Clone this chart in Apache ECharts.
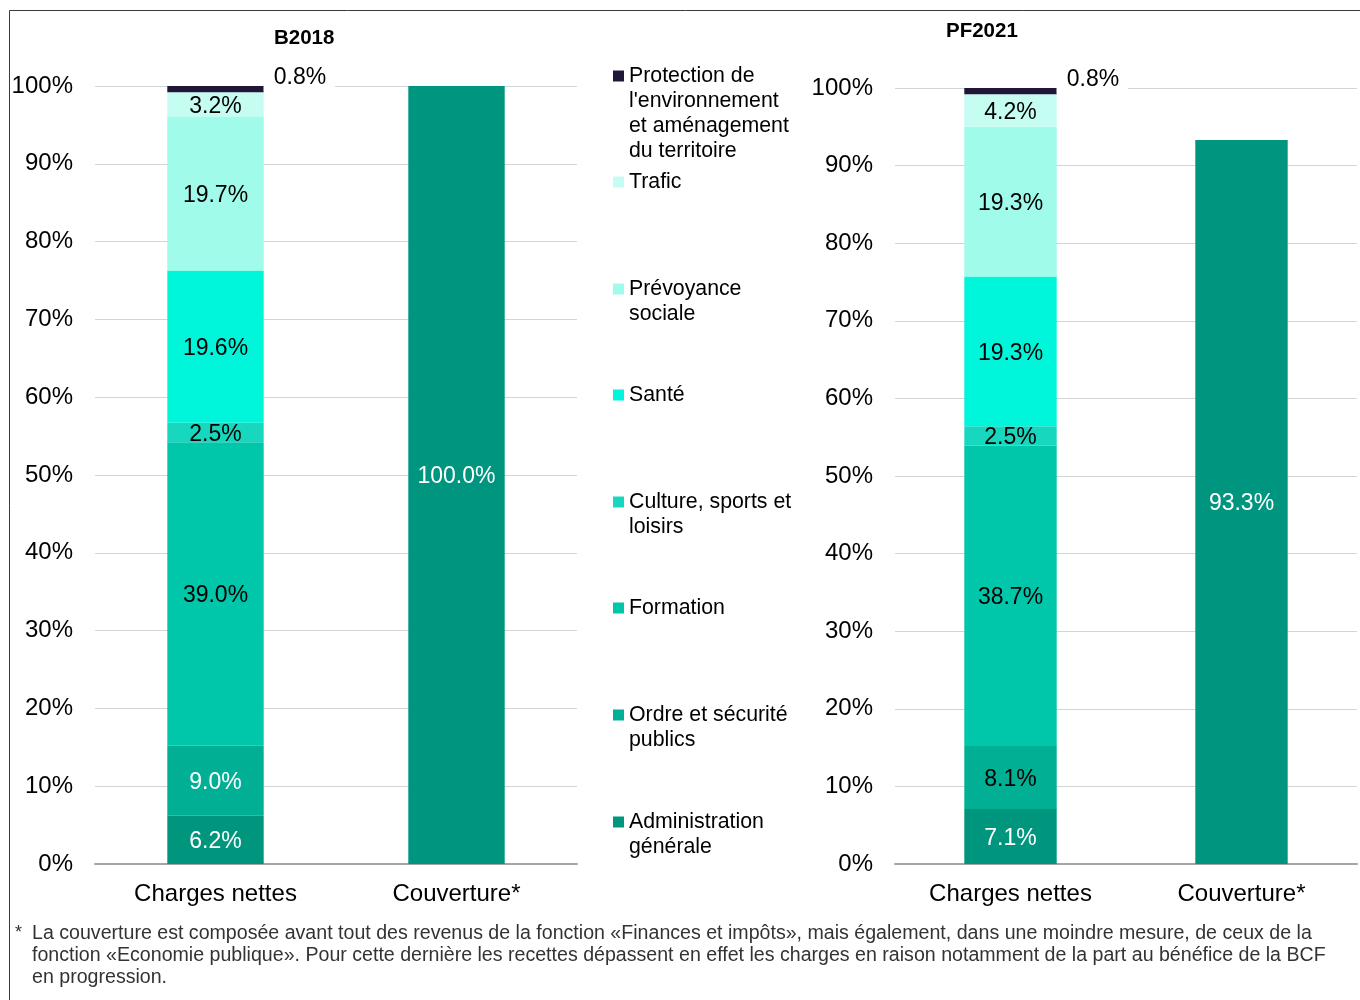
<!DOCTYPE html>
<html>
<head>
<meta charset="utf-8">
<title>Charges nettes et couverture</title>
<script src="https://cdn.jsdelivr.net/npm/echarts@6/dist/echarts.min.js"></script>
<style>
  html, body { margin: 0; padding: 0; background: #fff; }
  #chart { width: 1360px; height: 1000px; }
</style>
</head>
<body>
<div id="chart"></div>
<script>
// Categories on each x axis
const categories = ['Charges nettes', 'Couverture*'];

// Functions, stacked from the bottom of the bar upwards
const functionNames = [
  'Administration générale',
  'Ordre et sécurité publics',
  'Formation',
  'Culture, sports et loisirs',
  'Santé',
  'Prévoyance sociale',
  'Trafic',
  "Protection de l'environnement et aménagement du territoire"
];

// Legend wording, broken into lines
const legendLines = [
  ['Administration', 'générale'],
  ['Ordre et sécurité', 'publics'],
  ['Formation'],
  ['Culture, sports et', 'loisirs'],
  ['Santé'],
  ['Prévoyance', 'sociale'],
  ['Trafic'],
  ['Protection de', "l'environnement", 'et aménagement', 'du territoire']
];

// Share of net charges per function (%)
const chargesB2018 = [6.2, 9.0, 39.0, 2.5, 19.6, 19.7, 3.2, 0.8];
const chargesPF2021 = [7.1, 8.1, 38.7, 2.5, 19.3, 19.3, 4.2, 0.8];

// Coverage (%)
const couvertureB2018 = 100.0;
const couverturePF2021 = 93.3;

// Panel titles and axis ticks
const panelTitles = ['B2018', 'PF2021'];
const yMin = 0, yMax = 100, yStep = 10;

const footnote = [
  'La couverture est composée avant tout des revenus de la fonction «Finances et impôts», mais également, dans une moindre mesure, de ceux de la',
  'fonction «Economie publique». Pour cette dernière les recettes dépassent en effet les charges en raison notamment de la part au bénéfice de la BCF',
  'en progression.'
];

const colors = ['#00967e', '#00af94', '#00c7aa', '#17d8be', '#00f6da', '#a0fbea', '#c6fdf3', '#1f1638'];
const couvertureColor = '#00957e';
const FONT = '"Liberation Sans", Arial, Helvetica, sans-serif';

// label text colour per segment (white on the darker greens)
const labelColorsB2018 = ['#fff', '#fff', '#000', '#000', '#000', '#000', '#000', '#000'];
const labelColorsPF2021 = ['#fff', '#000', '#000', '#000', '#000', '#000', '#000', '#000'];

const pct = v => v.toFixed(1) + '%';

function makeStackSeries(values, labelColors, axisIndex) {
  return values.map((v, i) => {
    const isTop = i === values.length - 1;
    return {
      name: functionNames[i],
      type: 'bar',
      stack: 'total' + axisIndex,
      xAxisIndex: axisIndex,
      yAxisIndex: axisIndex,
      barWidth: '40%',
      itemStyle: { color: colors[i] },
      data: [v, '-'],
      label: isTop ? {
        show: true,
        position: 'right',
        distance: 0,
        offset: [0, -11],
        formatter: p => pct(p.value),
        color: '#000',
        fontFamily: FONT,
        fontSize: 23,
        backgroundColor: '#fff',
        padding: [2, 9, 2, 10]
      } : {
        show: true,
        position: 'inside',
        offset: [0, 2],
        formatter: p => pct(p.value),
        color: labelColors[i],
        fontFamily: FONT,
        fontSize: 23
      },
      emphasis: { disabled: true }
    };
  });
}

function makeCouverture(value, axisIndex) {
  return {
    name: 'Couverture',
    type: 'bar',
    stack: 'total' + axisIndex,
    xAxisIndex: axisIndex,
    yAxisIndex: axisIndex,
    barWidth: '40%',
    itemStyle: { color: couvertureColor },
    data: ['-', value],
    label: {
      show: true,
      position: 'inside',
      offset: [0, 2],
      formatter: p => pct(p.value),
      color: '#fff',
      fontFamily: FONT,
      fontSize: 23
    },
    emphasis: { disabled: true }
  };
}

const grids = [
  { left: 95, right: 783, top: 86, bottom: 136 },
  { left: 895, right: 3, top: 88, bottom: 136 }
];

const xAxes = grids.map((g, i) => ({
  type: 'category',
  gridIndex: i,
  data: categories,
  axisTick: { show: false },
  axisLine: { show: true, lineStyle: { color: '#a6a6a6', width: 2 } },
  axisLabel: { color: '#000', fontFamily: FONT, fontSize: 24, margin: 18 }
}));

const yAxes = grids.map((g, i) => ({
  type: 'value',
  gridIndex: i,
  min: yMin,
  max: yMax,
  interval: yStep,
  axisLine: { show: false },
  axisTick: { show: false },
  splitLine: { lineStyle: { color: '#d4d4d4', width: 1 } },
  axisLabel: { formatter: '{value}%', color: '#000', fontFamily: FONT, fontSize: 24, margin: 22 }
}));

// One legend block per function so each entry sits at its own height.
const legendIconY = [822, 715, 608, 502, 395, 289, 182, 76];
const legends = functionNames.map((name, i) => {
  const lines = legendLines[i];
  const n = lines.length;
  const lineH = 25;
  // blank leading lines keep the first line level with the marker
  const text = new Array(n - 1).fill('').concat(lines).join('\n');
  return {
    data: [name],
    left: 613,
    top: legendIconY[i] - (2 * n - 1) * lineH / 2,
    padding: 0,
    itemWidth: 11,
    itemHeight: 11,
    icon: 'rect',
    selectedMode: false,
    formatter: () => text,
    textStyle: { color: '#000', fontFamily: FONT, fontSize: 21.3, lineHeight: lineH }
  };
});

const option = {
  animation: false,
  backgroundColor: '#fff',
  title: [
    { text: panelTitles[0], left: 274, top: 28, padding: 0,
      textStyle: { fontFamily: FONT, fontSize: 20.5, fontWeight: 'bold', color: '#000' } },
    { text: panelTitles[1], left: 946, top: 21, padding: 0,
      textStyle: { fontFamily: FONT, fontSize: 20.5, fontWeight: 'bold', color: '#000' } }
  ],
  legend: legends,
  grid: grids,
  xAxis: xAxes,
  yAxis: yAxes,
  series: [
    ...makeStackSeries(chargesB2018, labelColorsB2018, 0),
    makeCouverture(couvertureB2018, 0),
    ...makeStackSeries(chargesPF2021, labelColorsPF2021, 1),
    makeCouverture(couverturePF2021, 1)
  ],
  graphic: [
    {
      type: 'rect',
      silent: true,
      shape: { x: 9.5, y: 10.5, width: 1400, height: 1100 },
      style: { fill: 'none', stroke: '#3a3a3a', lineWidth: 1 }
    },
    {
      type: 'text',
      left: 15,
      top: 924,
      style: { text: '*', fill: '#333', font: '18px ' + FONT }
    },
    {
      type: 'text',
      left: 32,
      top: 923,
      style: { text: footnote.join('\n'), fill: '#333', font: '19.6px ' + FONT, lineHeight: 22 }
    }
  ]
};

const chart = echarts.init(document.getElementById('chart'), null, { renderer: 'canvas' });
chart.setOption(option);
</script>
</body>
</html>
